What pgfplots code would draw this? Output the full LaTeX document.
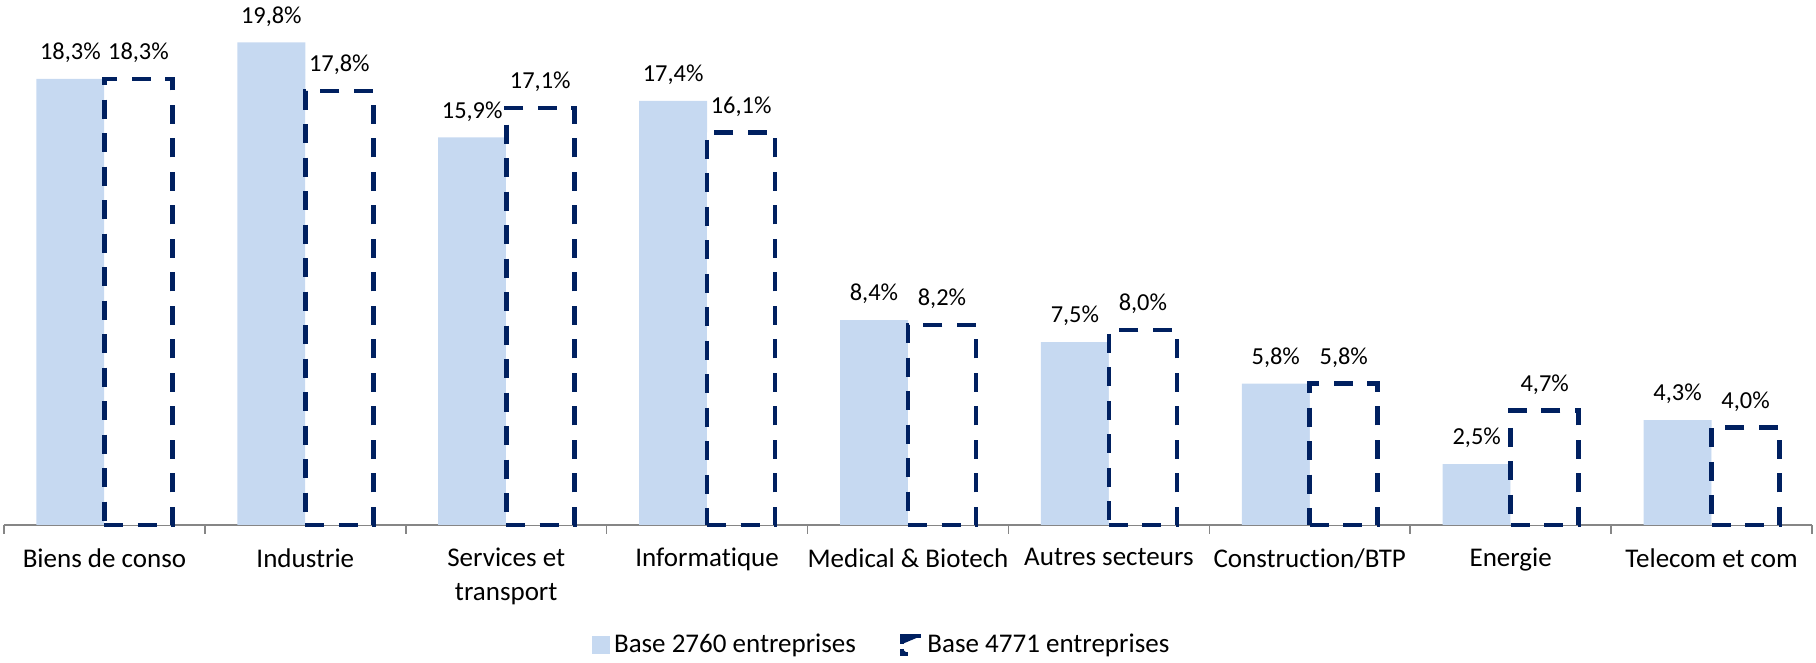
\documentclass[border=0pt]{standalone}
\usepackage{pgfplots}
\pgfplotsset{compat=1.18}
\usepackage{fontspec}
\setmainfont{Carlito}[Ligatures=NoCommon]
\definecolor{lightb}{HTML}{C6D9F1}
\definecolor{navy}{HTML}{002060}
\definecolor{axisgray}{HTML}{868686}
\begin{document}
\fontsize{13.5}{16.8}\selectfont
\begin{tikzpicture}
\begin{axis}[
  scale only axis, width=904pt, height=256pt,
  xmin=-0.5, xmax=8.5, ymin=0, ymax=21,
  ybar=0pt, bar width=34pt,
  clip=false,
  axis x line*=bottom, hide y axis,
  x axis line style={-, draw=axisgray, line width=0.75pt},
  xtick={0,1,2,3,4,5,6,7,8},
  xticklabels={Biens de conso, Industrie, {Services et\\transport}, Informatique, Medical \& Biotech, Autres secteurs, Construction/BTP, Energie, Telecom et com},
  major tick length=0pt,
  minor xtick={-0.5,0.5,1.5,2.5,3.5,4.5,5.5,6.5,7.5,8.5},
  minor tick length=4.5pt, tick align=outside,
  minor tick style={draw=axisgray, line width=0.75pt},
  xticklabel style={align=center, font=\fontsize{13.5}{16.8}\selectfont, yshift=-7pt},
  /pgf/number format/fixed, /pgf/number format/fixed zerofill,
  /pgf/number format/precision=1, /pgf/number format/use comma,
  /pgf/number format/assume math mode=true,
  nodes near coords={\pgfmathprintnumber{\pgfplotspointmeta}\%},
  every node near coord/.append style={anchor=center, yshift=13pt, font=\fontsize{12.2}{14}\selectfont, text=black},
  legend columns=2,
  legend style={at={(0.486,0)}, anchor=center, yshift=-60pt, draw=none, font=\fontsize{13.5}{16.8}\selectfont,
    /tikz/every even column/.append style={column sep=20pt}},
]
\addplot[fill=lightb, draw=none,
  legend image code/.code={\fill[lightb] (0pt,-4.5pt) rectangle (9pt,4.5pt);}]
  coordinates {(0,18.3)(1,19.8)(2,15.9)(3,17.4)(4,8.4)(5,7.5)(6,5.8)(7,2.5)(8,4.3)};
\addlegendentry{Base 2760 entreprises}
\addplot[fill=white, draw=navy, line width=2.3pt, dash pattern=on 9.5pt off 7.25pt,
  legend image code/.code={\draw[navy, line width=2.3pt, solid] (0pt,0.5pt) -- (0pt,4.5pt) -- (9.5pt,4.5pt); \draw[navy, line width=2.3pt, solid] (0pt,-2pt) -- (0pt,-4.5pt) -- (3pt,-4.5pt);}]
  coordinates {(0,18.3)(1,17.8)(2,17.1)(3,16.1)(4,8.2)(5,8.0)(6,5.8)(7,4.7)(8,4.0)};
\addlegendentry{Base 4771 entreprises}
\end{axis}
\pgfresetboundingbox
\useasboundingbox (-2pt,-69pt) rectangle (906pt,262.5pt);
\end{tikzpicture}
\end{document}
